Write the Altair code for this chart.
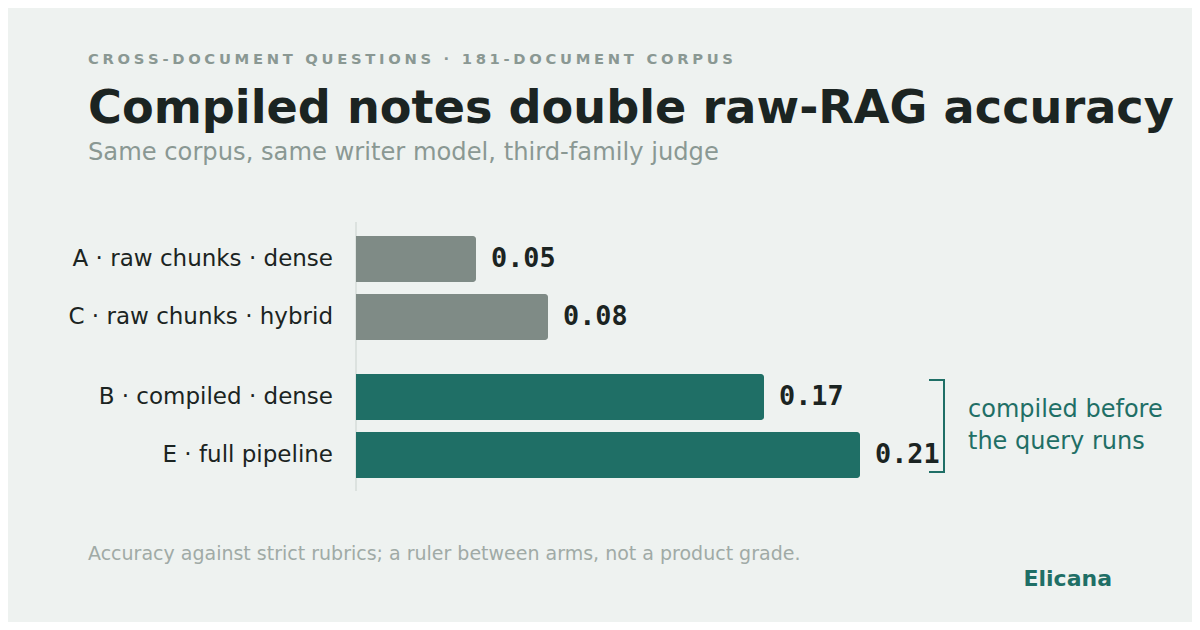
import altair as alt
import pandas as pd

# ---- text content ----
KICKER = "CROSS-DOCUMENT QUESTIONS · 181-DOCUMENT CORPUS"
TITLE = "Compiled notes double raw-RAG accuracy"
SUBTITLE = "Same corpus, same writer model, third-family judge"
FOOTNOTE = "Accuracy against strict rubrics; a ruler between arms, not a product grade."
BRAND = "Elicana"
NOTE_LINES = ["compiled before", "the query runs"]

# ---- data ----
ARMS = ["A · raw chunks · dense", "C · raw chunks · hybrid",
        "B · compiled · dense", "E · full pipeline"]
ACCURACY = [0.05, 0.08, 0.17, 0.21]
GROUP = ["raw", "raw", "compiled", "compiled"]
SLOT = ["1", "2", "1", "2"]
GROUP_ORDER = ["raw", "compiled"]
SLOT_ORDER = ["1", "2"]
X_MAX = 0.21

df = pd.DataFrame({"arm": ARMS, "acc": ACCURACY, "group": GROUP, "slot": SLOT})

# ---- style ----
BG = "#eef2f0"
GRAY = "#7f8b86"
TEAL = "#1f6f66"
INK = "#1b2422"
MUTED = "#8a9893"
FAINT = "#a0aaa6"
AXIS = "#dce2df"
SANS = "DejaVu Sans"
MONO = "DejaVu Sans Mono"

x_scale = alt.Scale(domain=[0, X_MAX], range=[348, 852], nice=False, zero=True)
y_scale = alt.Scale(domain=GROUP_ORDER, range=[228, 470],
                    paddingInner=34 / 138, paddingOuter=0)
off_scale = alt.Scale(domain=SLOT_ORDER, paddingInner=12 / 58, paddingOuter=0)

one = alt.Data(values=[{"k": 0}])

base = alt.Chart(df).encode(
    y=alt.Y("group:N", scale=y_scale, axis=None),
    yOffset=alt.YOffset("slot:N", scale=off_scale),
)

bars = base.mark_bar(cornerRadiusEnd=3).encode(
    x=alt.X("acc:Q", scale=x_scale, axis=None),
    color=alt.Color("group:N", scale=alt.Scale(domain=GROUP_ORDER, range=[GRAY, TEAL]),
                    legend=None),
)

values = base.mark_text(align="left", baseline="middle", dx=15, font=MONO,
                        fontWeight="bold", fontSize=26.8, color=INK).encode(
    x=alt.X("acc:Q", scale=x_scale, axis=None),
    text=alt.Text("acc:Q", format=".2f"),
)

labels = base.mark_text(align="right", baseline="middle", font=SANS,
                        fontSize=23, color=INK).encode(
    x=alt.value(325),
    text="arm:N",
)

axis_rule = alt.Chart(one).mark_rule(color=AXIS, strokeWidth=2).encode(
    x=alt.X(datum=0, scale=x_scale, axis=None),
    y=alt.value(214), y2=alt.value(483),
)

bracket_v = alt.Chart(one).mark_rule(color=TEAL, strokeWidth=2, strokeCap="square").encode(
    x=alt.value(936), y=alt.value(372), y2=alt.value(464))
bracket_t = alt.Chart(one).mark_rule(color=TEAL, strokeWidth=2, strokeCap="square").encode(
    x=alt.value(922), x2=alt.value(936), y=alt.value(372))
bracket_b = alt.Chart(one).mark_rule(color=TEAL, strokeWidth=2, strokeCap="square").encode(
    x=alt.value(922), x2=alt.value(936), y=alt.value(464))


def txt(text, x, y, size, color, weight="normal", align="left", font=SANS, **kw):
    return alt.Chart(one).mark_text(
        text=text, align=align, baseline="alphabetic", font=font,
        fontSize=size, fontWeight=weight, color=color, **kw
    ).encode(x=alt.value(x), y=alt.value(y))


kicker = txt("\u2005".join(KICKER), 80, 56, 14.75, MUTED, weight="bold")
title = txt(TITLE, 80, 115, 46.2, INK, weight="bold")
subtitle = txt(SUBTITLE, 80, 152, 24.2, MUTED)
note = txt(NOTE_LINES, 960, 409, 24, TEAL, lineHeight=32)
footnote = txt(FOOTNOTE, 80, 552, 19, FAINT)
brand = txt(BRAND, 1104, 578, 22, TEAL, weight="bold", align="right")

chart = alt.layer(
    axis_rule, bars, values, labels, bracket_v, bracket_t, bracket_b,
    kicker, title, subtitle, note, footnote, brand,
).properties(
    width=1184, height=614, padding=0,
    autosize=alt.AutoSizeParams(type="none"),
    background=BG,
).configure_view(stroke=None)

chart.save("out.html", embed_options={"renderer": "svg", "actions": False})
